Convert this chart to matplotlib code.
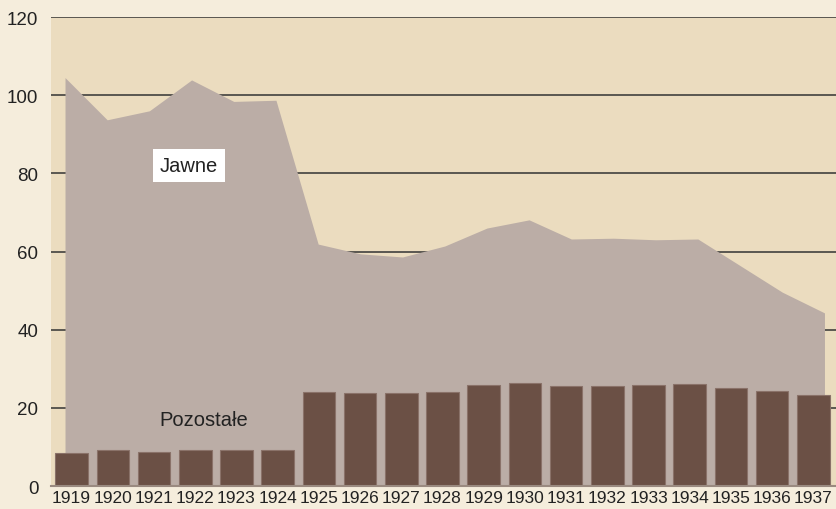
import matplotlib
matplotlib.use("Agg")
import matplotlib.pyplot as plt
import numpy as np

years = [1919, 1920, 1921, 1922, 1923, 1924, 1925, 1926, 1927, 1928,
         1929, 1930, 1931, 1932, 1933, 1934, 1935, 1936, 1937]
jawne_total = [104.5, 93.7, 96.0, 103.9, 98.4, 98.7, 61.9, 59.4, 58.6, 61.4,
               66.0, 68.1, 63.2, 63.4, 63.0, 63.2, 56.4, 49.6, 44.3]
pozostale = [8.4, 9.2, 8.7, 9.2, 9.2, 9.2, 24.1, 23.9, 23.7, 24.0,
             25.8, 26.4, 25.5, 25.6, 25.8, 26.1, 25.1, 24.2, 23.3]
yticks = [0, 20, 40, 60, 80, 100, 120]

plt.rcParams['font.family'] = ['Liberation Sans', 'DejaVu Sans']

fig = plt.figure(figsize=(8.36, 5.10), dpi=100, facecolor='#f5eddc')
ax = fig.add_axes([51 / 836, 1 - 487 / 510, 1 - 51 / 836, (487 - 18) / 510])
ax.set_facecolor('#ebdcbf')

x = np.arange(len(years))
xa = np.linspace(-0.16, 18.27, len(years))

ax.fill_between(xa, 0, jawne_total, color='#bbada6', lw=0, zorder=2)
ax.bar(x, pozostale, width=0.79, color='#6b5045', edgecolor='#8a7269',
       linewidth=0.8, zorder=3)

for v in yticks[1:]:
    ax.axhline(v, color='#333333', lw=1.1, zorder=1)

ax.set_xlim(-0.5, 18.55)
ax.set_ylim(0, 120)
ax.set_yticks(yticks)
ax.set_yticklabels([str(v) for v in yticks], fontsize=13.5, color='#222222')
ax.set_xticks(x)
ax.set_xticklabels([str(y) for y in years], fontsize=12.5, color='#222222')
ax.tick_params(axis='both', length=0)
ax.tick_params(axis='y', pad=9)
ax.tick_params(axis='x', pad=3)

for s in ['top', 'right', 'left']:
    ax.spines[s].set_visible(False)
ax.spines['bottom'].set_color('#9a8a80')
ax.spines['bottom'].set_linewidth(1.5)
ax.spines['bottom'].set_zorder(4)

ax.text(2.85, 81.9, 'Jawne', fontsize=14.5, color='#222222', ha='center',
        va='center', zorder=5,
        bbox=dict(facecolor='white', edgecolor='none', boxstyle='square,pad=0.35'))
ax.text(3.2, 17.1, 'Pozostałe', fontsize=14.5, color='#222222', ha='center',
        va='center', zorder=5)

fig.savefig('out.png', dpi=100, facecolor=fig.get_facecolor())
